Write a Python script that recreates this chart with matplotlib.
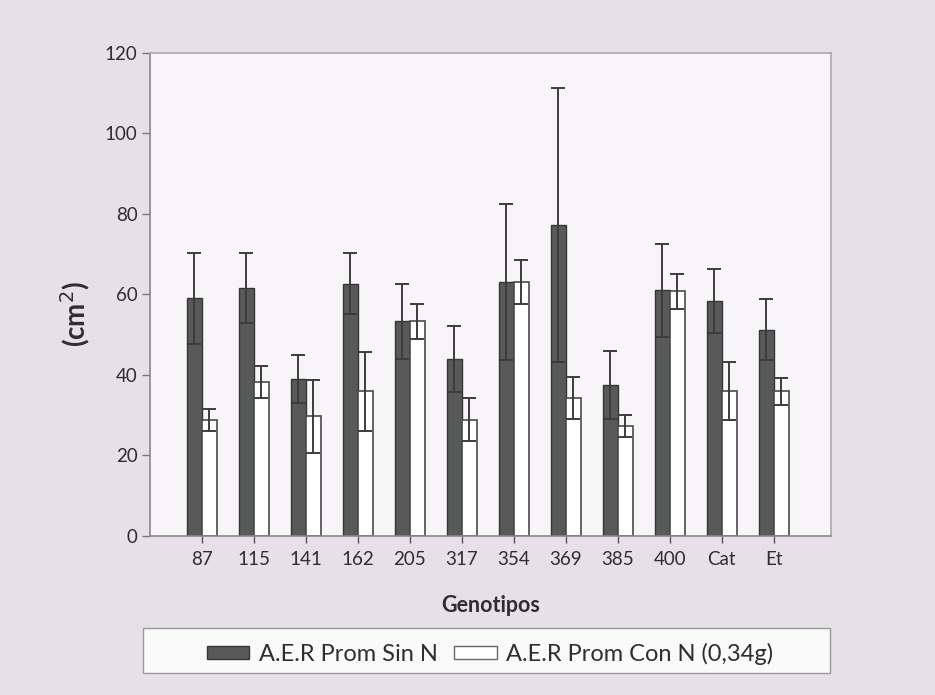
"""
plot.py
-------
Area (cm2) per genotype, without N vs with N (0,34g), mean +/- error.
Saves out.png
"""

import numpy as np
import matplotlib
matplotlib.use("Agg")
import matplotlib.pyplot as plt
from matplotlib.patches import Rectangle, Patch

# ── data ────────────────────────────────────────────────────────────────────
genotipos = ["87", "115", "141", "162", "205", "317", "354", "369", "385", "400", "Cat", "Et"]
sin_n     = [59.0, 61.5, 39.0, 62.7, 53.3, 44.0, 63.1, 77.2, 37.5, 61.0, 58.4, 51.2]
sin_err   = [11.3, 8.7, 6.0, 7.6, 9.4, 8.2, 19.5, 34.1, 8.5, 11.6, 7.9, 7.6]
con_n     = [28.8, 38.3, 29.7, 35.9, 53.3, 28.9, 63.1, 34.2, 27.4, 60.8, 36.0, 35.9]
con_err   = [2.7, 4.0, 9.1, 9.7, 4.3, 5.4, 5.5, 5.2, 2.7, 4.4, 7.3, 3.3]
yticks    = [0, 20, 40, 60, 80, 100, 120]
labels    = ["A.E.R Prom Sin N", "A.E.R Prom Con N (0,34g)"]
# ────────────────────────────────────────────────────────────────────────────

FONT     = ["Lato", "DejaVu Sans"]
DARK     = "#585a59"
EDGE     = "#353535"
BG       = "#e8e0e9"
PLOT_BG  = "#f8f5f8"
TEXT     = "#2e2e2e"
W        = 0.29

plt.rcParams["font.family"] = FONT

fig = plt.figure(figsize=(9.35, 6.95), dpi=100, facecolor=BG)
ax = fig.add_axes([0.1604, 0.2288, 0.7283, 0.695])
ax.set_facecolor(PLOT_BG)

x = np.arange(len(genotipos))
err_kw = dict(ecolor="#3c3c3c", elinewidth=1.4, capsize=5, capthick=1.4)

ax.bar(x - W / 2, sin_n, W, color=DARK, edgecolor=EDGE, linewidth=1.0,
       yerr=sin_err, error_kw=err_kw, zorder=2)
ax.bar(x + W / 2, con_n, W, color="white", edgecolor="#4a4a4a", linewidth=1.2,
       yerr=con_err, error_kw=err_kw, zorder=2)

ax.set_xlim(-1.0, 12.1)
ax.set_ylim(0, 120)
ax.set_yticks(yticks)
ax.set_yticklabels([str(v) for v in yticks], fontsize=13.5, color=TEXT)
ax.set_xticks(x)
ax.set_xticklabels(genotipos, fontsize=13.5, color=TEXT)
ax.tick_params(axis="y", length=6, width=1, color="#777777", pad=3)
ax.tick_params(axis="x", length=5, width=1, color="#555555", pad=6)

for side in ["left", "bottom"]:
    ax.spines[side].set_color("#888888")
    ax.spines[side].set_linewidth(1.2)
for side in ["top", "right"]:
    ax.spines[side].set_color("#aaaaaa")
    ax.spines[side].set_linewidth(1.2)

ax.set_xlabel("Genotipos", fontsize=15.5, fontweight="bold", color=TEXT, labelpad=19)
fig.text(0.080, 0.548, "(cm$^{2}$)", rotation=90, fontsize=20, fontweight="bold",
         color=TEXT, ha="center", va="center")

# legend box at the bottom
fig.patches.append(Rectangle((143 / 935, 1 - 673 / 695), 687 / 935, 45 / 695,
                             transform=fig.transFigure, facecolor="#fbfafb",
                             edgecolor="#999999", linewidth=1.0, zorder=0))
handles = [Patch(facecolor=DARK, edgecolor=EDGE),
           Patch(facecolor="white", edgecolor="#666666")]
fig.legend(handles, labels, loc="center", bbox_to_anchor=(0.524, 1 - 654 / 695),
           ncol=2, frameon=False, fontsize=17, handlelength=1.8, handleheight=0.5,
           handletextpad=0.4, columnspacing=0.7, labelcolor=TEXT)

fig.savefig("out.png", dpi=100, facecolor=BG)
